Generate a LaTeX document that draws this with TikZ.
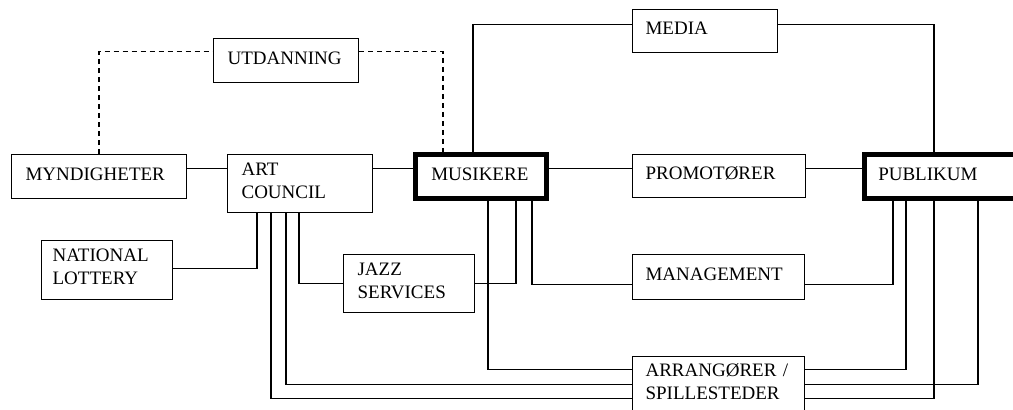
\documentclass[tikz,border=0pt]{standalone}
\usepackage{fontspec}
\setmainfont{Liberation Serif}

\begin{document}
\begin{tikzpicture}[x=1pt,y=-1pt,
	box/.style={draw,line width=1.2pt,anchor=north west,align=left,inner xsep=#1,inner ysep=0pt,font=\fontsize{19}{23}\selectfont},
	box/.default=14pt,
	bigbox/.style={box=#1,line width=4.5pt},
	bigbox/.default=16pt,
	one/.style={text height=12.6pt,text depth=5pt},
	two/.style={text depth=29pt},
	link/.style={line width=1.2pt},
	dlink/.style={link,dash pattern=on 5pt off 4pt}]
	\useasboundingbox (0,0) rectangle (1013,410);
	\node[box,one,text width=147pt,minimum height=44pt] (myn) at (11,154) {MYNDIGHETER};
	\node[box,two,text width=117pt,minimum height=58pt] (art) at (227,154) {ART\\COUNCIL};
	\node[box,one,text width=117pt,minimum height=44pt] (utd) at (213,38) {UTDANNING};
	\node[box=11pt,two,text width=109pt,minimum height=59pt] (lot) at (41,240) {NATIONAL\\LOTTERY};
	\node[box,two,text width=103pt,minimum height=58pt] (jazz) at (343,254) {JAZZ\\SERVICES};
	\node[bigbox,one,text width=99pt,minimum height=44pt] (mus) at (413,152) {MUSIKERE};
	\node[box=13pt,one,text width=119pt,minimum height=43pt] (media) at (632,9) {MEDIA};
	\node[box=13pt,one,text width=147pt,minimum height=43pt] (prom) at (632,154) {PROMOTØRER};
	\node[box=13pt,one,text width=146pt,minimum height=45pt] (man) at (632,254) {MANAGEMENT};
	\node[box=13pt,two,text width=146pt,minimum height=56pt] (arr) at (632,356) {ARRANGØRER /\\SPILLESTEDER};
	\node[bigbox=14pt,one,text width=172pt,minimum height=44pt] (pub) at (862,152) {PUBLIKUM};

	\draw[link] ([yshift=8pt]myn.east) -- ([yshift=8pt]myn.east -| art.west);
	\draw[link] ([yshift=15pt]art.east) -- ([yshift=15pt]art.east -| mus.west);
	\draw[link] ([yshift=8pt]mus.east) -- ([yshift=8pt]mus.east -| prom.west);
	\draw[link] ([yshift=7.5pt]prom.east) -- ([yshift=7.5pt]prom.east -| pub.west);
	\draw[link] ([xshift=60pt]mus.north west) |- ([yshift=7pt]media.west);
	\draw[link] ([yshift=7pt]media.east) -| ([xshift=72pt]pub.north west);
	\draw[dlink] ([xshift=88pt]myn.north west) |- ([yshift=9pt]utd.west);
	\draw[dlink] ([yshift=9pt]utd.east) -| ([xshift=30pt]mus.north west);

	\draw[link] ([xshift=30pt]art.south west) |- ([yshift=2pt]lot.east);
	\draw[link] ([xshift=72pt]art.south west) |- (jazz.west);
	\draw[link] ([xshift=59pt]art.south west) |- (arr.west);
	\draw[link] ([xshift=44pt]art.south west) |- ([yshift=-14pt]arr.west);
	\draw[link] ([xshift=75pt]mus.south west) |- ([yshift=15pt]arr.west);
	\draw[link] ([xshift=103pt]mus.south west) |- (jazz.east);
	\draw[link] ([xshift=119pt]mus.south west) |- ([yshift=-7pt]man.west);
	\draw[link] ([xshift=31pt]pub.south west) |- ([yshift=-7pt]man.east);
	\draw[link] ([xshift=44pt]pub.south west) |- ([yshift=15pt]arr.east);
	\draw[link] ([xshift=72pt]pub.south west) |- ([yshift=-14pt]arr.east);
	\draw[link] ([xshift=116pt]pub.south west) |- (arr.east);
\end{tikzpicture}
\end{document}
